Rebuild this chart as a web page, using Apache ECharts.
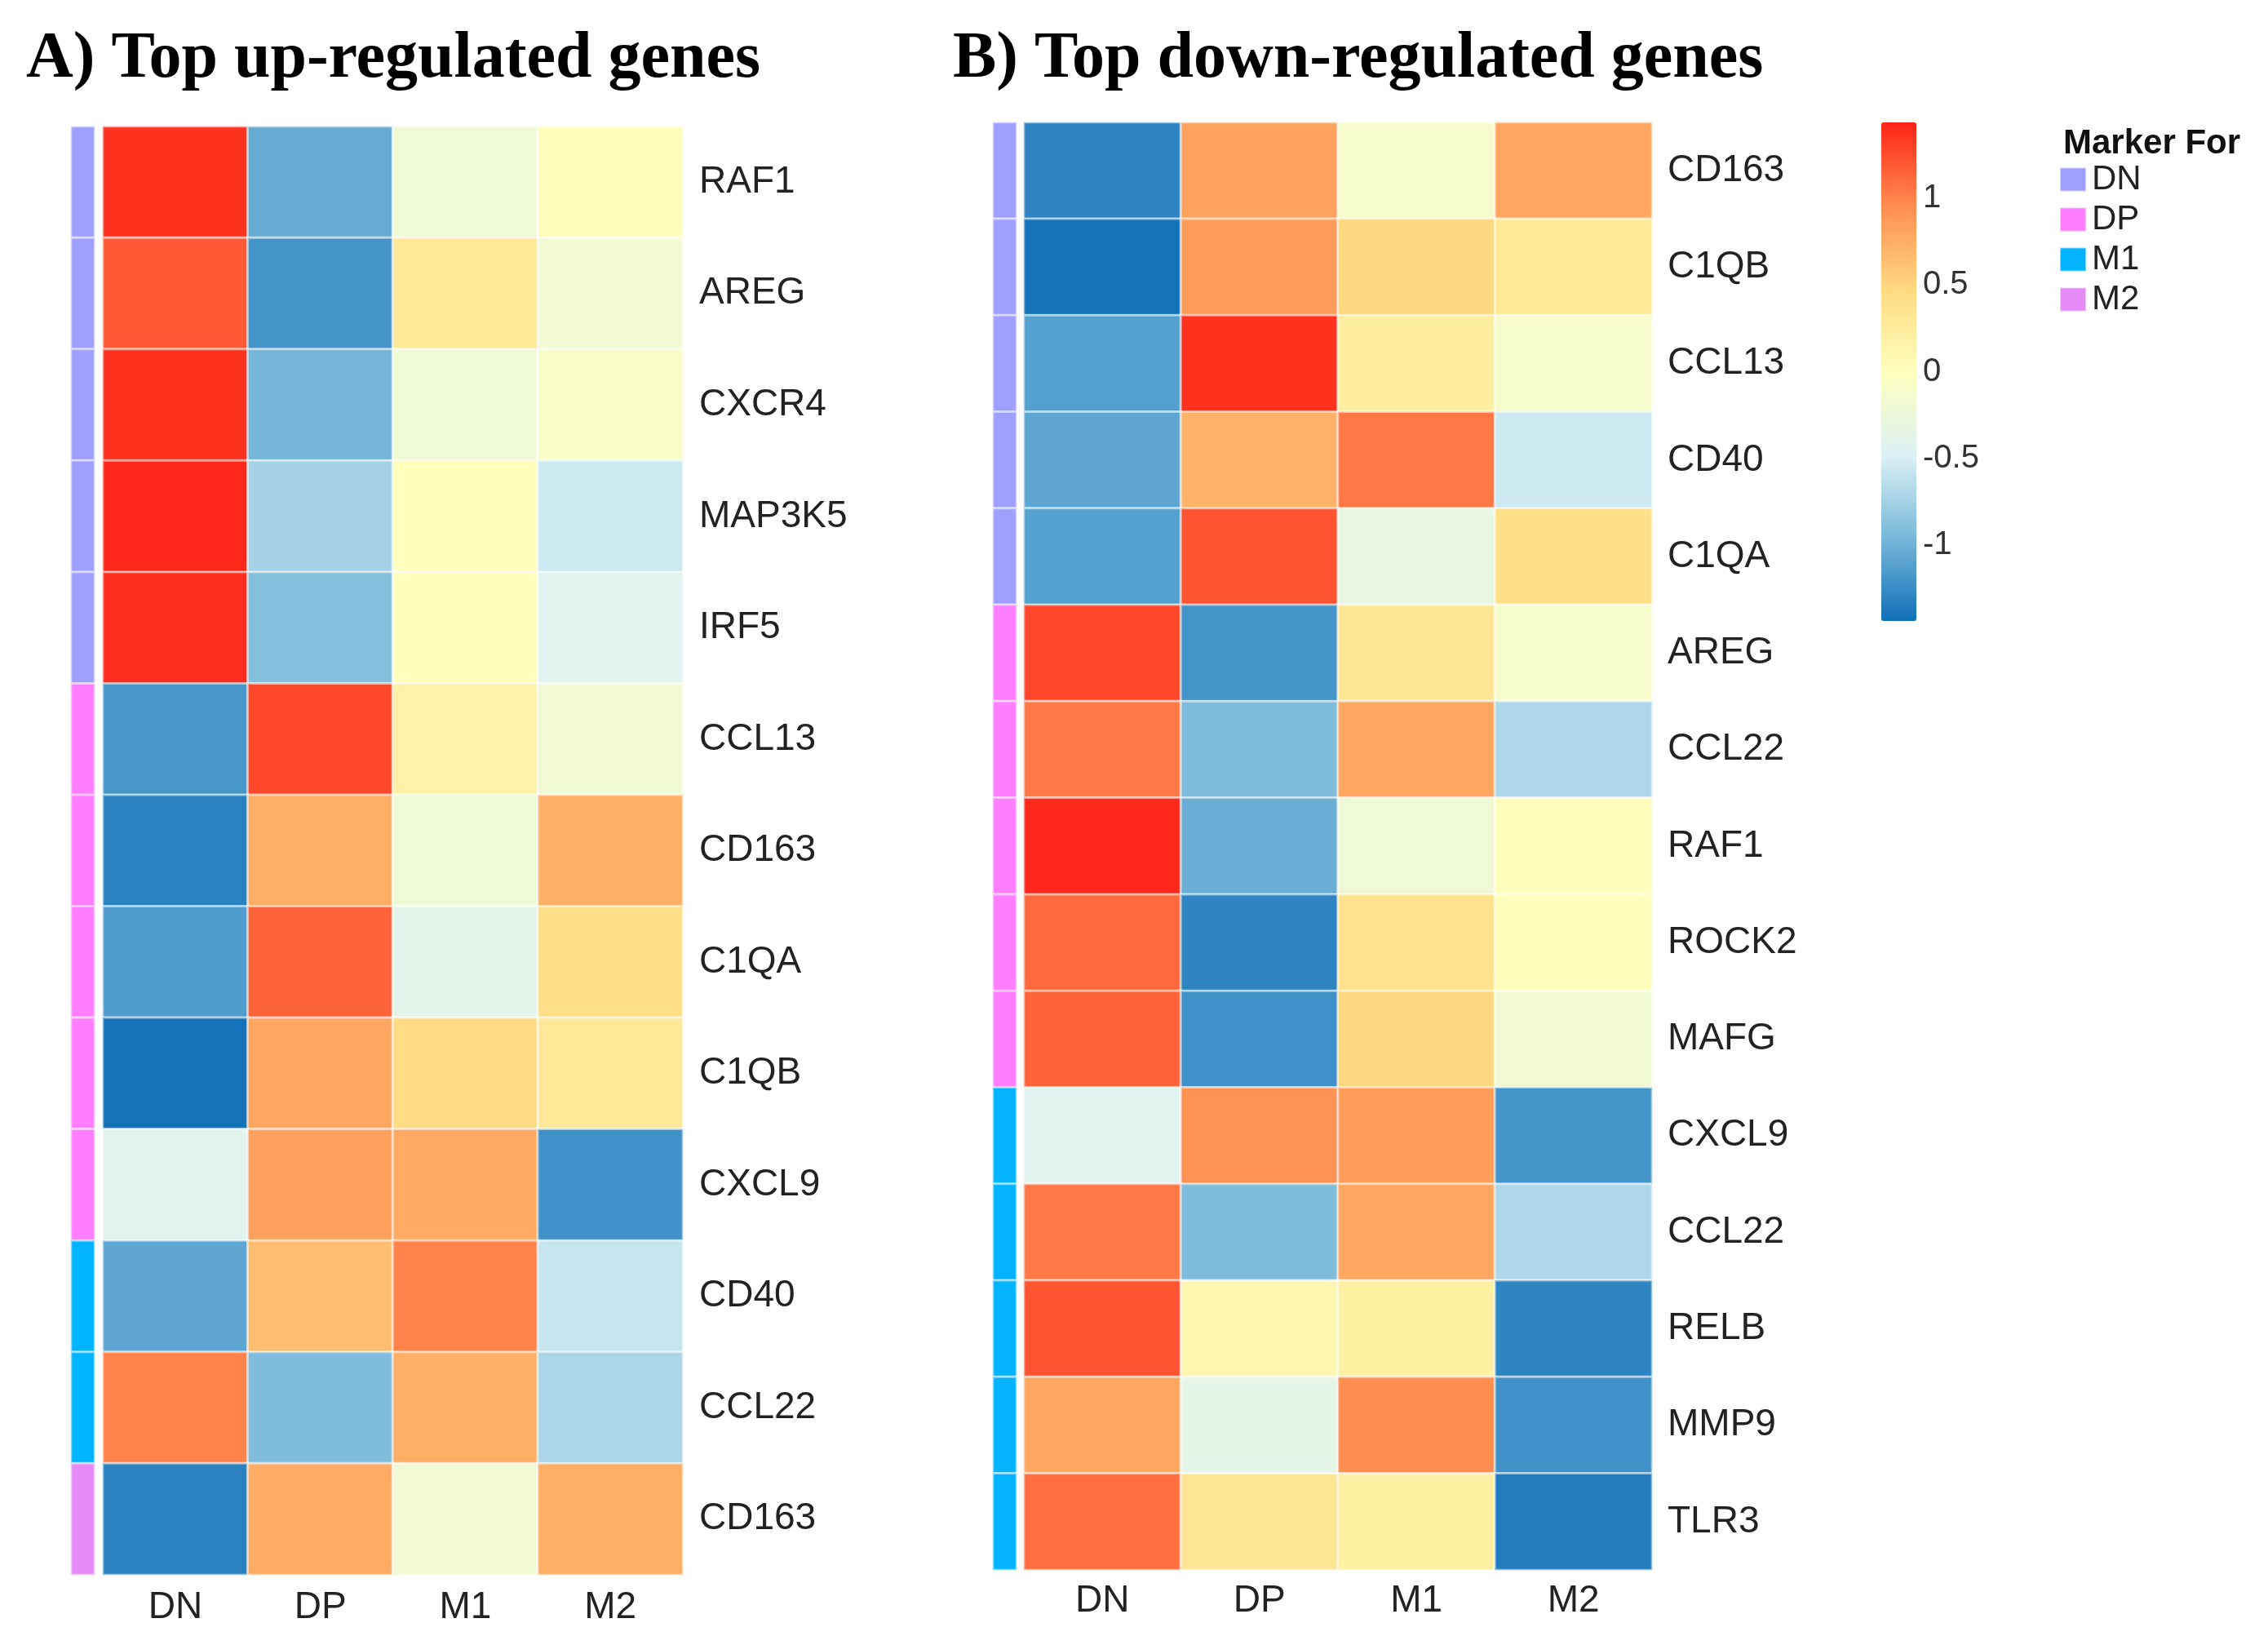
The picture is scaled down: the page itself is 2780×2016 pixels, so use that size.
<!DOCTYPE html>
<html>
<head>
<meta charset="utf-8">
<script src="https://cdn.jsdelivr.net/npm/echarts@6/dist/echarts.min.js"></script>
<style>html,body{margin:0;padding:0;background:#fff;}#c{width:2780px;height:2016px;}</style>
</head>
<body>
<div id="c"></div>
<script>
const columns = ['DN', 'DP', 'M1', 'M2'];

const genesA = ['RAF1','AREG','CXCR4','MAP3K5','IRF5','CCL13','CD163','C1QA','C1QB','CXCL9','CD40','CCL22','CD163'];
const valuesA = [
  [ 1.38, -1.05, -0.20,  0.02],
  [ 1.20, -1.20,  0.30, -0.18],
  [ 1.38, -0.98, -0.20, -0.08],
  [ 1.42, -0.75,  0.00, -0.55],
  [ 1.40, -0.90,  0.01, -0.42],
  [-1.18,  1.28,  0.18, -0.18],
  [-1.32,  0.75, -0.20,  0.74],
  [-1.15,  1.15, -0.38,  0.42],
  [-1.42,  0.80,  0.45,  0.30],
  [-0.42,  0.83,  0.78, -1.22],
  [-1.08,  0.65,  1.00, -0.58],
  [ 1.00, -0.92,  0.75, -0.72],
  [-1.32,  0.77, -0.18,  0.75]
];
const markerA = ['DN','DN','DN','DN','DN','DP','DP','DP','DP','DP','M1','M1','M2'];

const genesB = ['CD163','C1QB','CCL13','CD40','C1QA','AREG','CCL22','RAF1','ROCK2','MAFG','CXCL9','CCL22','RELB','MMP9','TLR3'];
const valuesB = [
  [-1.30,  0.82, -0.12,  0.80],
  [-1.42,  0.86,  0.50,  0.30],
  [-1.12,  1.38,  0.22, -0.12],
  [-1.08,  0.72,  1.05, -0.55],
  [-1.12,  1.22, -0.32,  0.42],
  [ 1.28, -1.20,  0.32, -0.12],
  [ 1.05, -0.92,  0.80, -0.70],
  [ 1.42, -1.02, -0.20,  0.02],
  [ 1.12, -1.30,  0.38,  0.02],
  [ 1.15, -1.22,  0.50, -0.18],
  [-0.42,  0.92,  0.85, -1.20],
  [ 1.05, -0.92,  0.80, -0.70],
  [ 1.22,  0.10,  0.20, -1.30],
  [ 0.80, -0.36,  0.95, -1.22],
  [ 1.10,  0.32,  0.20, -1.36]
];
const markerB = ['DN','DN','DN','DN','DN','DP','DP','DP','DP','DP','M1','M1','M1','M1','M1'];

const markerGroups = ['DN', 'DP', 'M1', 'M2'];
const markerColors = {DN: '#9F9FFF', DP: '#FF7DFF', M1: '#00B4FF', M2: '#E58BF7'};
const scaleMin = -1.44, scaleMax = 1.44;
const scaleTicks = [-1, -0.5, 0, 0.5, 1];
const palette = ['#1170B8', '#78B8DA', '#DCF1F5', '#FFFFBE', '#FFDA80', '#FF8C50', '#FF2418'];

function heatData(vals) {
  const out = [];
  vals.forEach((row, i) => row.forEach((v, j) => out.push([j, i, v])));
  return out;
}

const labelFont = 'Liberation Sans, Arial, sans-serif';
const cellBorder = {borderColor: 'rgba(255,255,255,0.5)', borderWidth: 3};

function catAxisX(gridIndex, show, margin) {
  return {
    type: 'category', gridIndex: gridIndex, data: show ? columns : ['m'],
    show: show, position: 'bottom',
    axisLine: {show: false}, axisTick: {show: false}, splitLine: {show: false},
    axisLabel: {show: show, fontSize: 46, color: '#222', fontFamily: labelFont, margin: margin}
  };
}
function catAxisY(gridIndex, genes, show, margin) {
  return {
    type: 'category', gridIndex: gridIndex, data: genes, inverse: true,
    show: show, position: 'right',
    axisLine: {show: false}, axisTick: {show: false}, splitLine: {show: false},
    axisLabel: {show: show, fontSize: 46, color: '#222', fontFamily: labelFont, margin: margin, align: 'left', padding: [8, 0, 0, 0]}
  };
}

const series = [
  {type: 'heatmap', name: 'A', xAxisIndex: 0, yAxisIndex: 0, data: heatData(valuesA), itemStyle: cellBorder, emphasis: {disabled: true}},
  {type: 'heatmap', name: 'B', xAxisIndex: 2, yAxisIndex: 2, data: heatData(valuesB), itemStyle: cellBorder, emphasis: {disabled: true}}
];
function addMarkerSeries(markers, axisIdx) {
  markerGroups.forEach(g => {
    const d = [];
    markers.forEach((m, i) => { if (m === g) d.push([0, i, 1]); });
    if (d.length) {
      series.push({
        type: 'heatmap', name: g, xAxisIndex: axisIdx, yAxisIndex: axisIdx, data: d,
        itemStyle: Object.assign({color: markerColors[g]}, cellBorder), emphasis: {disabled: true}
      });
    }
  });
}
addMarkerSeries(markerA, 1);
addMarkerSeries(markerB, 3);
series.push({type: 'scatter', xAxisIndex: 4, yAxisIndex: 4, data: [], silent: true});

const option = {
  backgroundColor: '#fff',
  animation: false,
  title: [
    {text: 'A) Top up-regulated genes', left: 27, top: 28, textStyle: {fontFamily: 'Liberation Serif, Times New Roman, serif', fontWeight: 'bold', fontSize: 80, color: '#000'}},
    {text: 'B) Top down-regulated genes', left: 1163, top: 28, textStyle: {fontFamily: 'Liberation Serif, Times New Roman, serif', fontWeight: 'bold', fontSize: 80, color: '#000'}},
    {text: 'Marker For', left: 2524, top: 150, textStyle: {fontFamily: labelFont, fontWeight: 'bold', fontSize: 42, color: '#111'}}
  ],
  grid: [
    {left: 126, top: 155, width: 711, height: 1775},
    {left: 87, top: 155, width: 29, height: 1775},
    {left: 1255, top: 150, width: 770, height: 1774},
    {left: 1217, top: 150, width: 29, height: 1774},
    {left: 2306, top: 150, width: 43, height: 611}
  ],
  xAxis: [
    catAxisX(0, true, 17),
    catAxisX(1, false, 0),
    catAxisX(2, true, 15),
    catAxisX(3, false, 0),
    {type: 'value', gridIndex: 4, show: false, min: 0, max: 1}
  ],
  yAxis: [
    catAxisY(0, genesA, true, 20),
    catAxisY(1, genesA, false, 0),
    catAxisY(2, genesB, true, 19),
    catAxisY(3, genesB, false, 0),
    {
      type: 'value', gridIndex: 4, min: scaleMin, max: scaleMax, position: 'right',
      axisLine: {show: false}, axisTick: {show: false}, splitLine: {show: false},
      axisLabel: {customValues: scaleTicks, fontSize: 40, color: '#333', fontFamily: labelFont, margin: 8, align: 'left'}
    }
  ],
  visualMap: {
    type: 'continuous', min: scaleMin, max: scaleMax, seriesIndex: [0, 1],
    calculable: false, orient: 'vertical', left: 2306, top: 150, padding: 0,
    itemWidth: 43, itemHeight: 611, text: null, showLabel: false,
    inRange: {color: palette}, hoverLink: false
  },
  legend: {
    data: markerGroups, orient: 'vertical', left: 2524, top: 199, padding: 0,
    icon: 'rect', itemWidth: 32, itemHeight: 29, itemGap: 7,
    textStyle: {fontSize: 42, color: '#222', fontFamily: labelFont, padding: [0, 0, 0, 2]},
    selectedMode: false
  },
  series: series
};

const chart = echarts.init(document.getElementById('c'));
chart.setOption(option);
</script>
</body>
</html>
